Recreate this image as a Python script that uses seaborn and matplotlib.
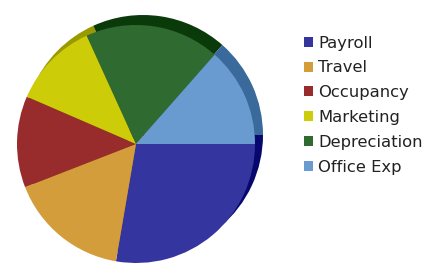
import matplotlib
matplotlib.use('Agg')
import matplotlib.pyplot as plt
import seaborn as sns

sns.set_theme(style="white")
plt.rcParams['font.family'] = ['DejaVu Sans']

# data (share of total, %)
categories = ['Payroll', 'Travel', 'Occupancy', 'Marketing', 'Depreciation', 'Office Exp']
values = [27.7, 16.4, 12.4, 11.7, 18.3, 13.5]

face_colors = ['#35359f', '#d49d3c', '#982c2c', '#cccc08', '#2f6b30', '#6a9bd0']
rim_colors = ['#07076e', '#a07020', '#6a1818', '#9a9a00', '#0a3a0a', '#3a6a9c']

fig = plt.figure(figsize=(4.33, 2.68), dpi=100)
ax = fig.add_axes([0, 0, 1, 1])

# darker pie behind, shifted up-right to mimic the 3D rim
ax.pie(values, colors=rim_colors, startangle=0, counterclock=False,
       center=(143, 133), radius=120, frame=True,
       wedgeprops=dict(linewidth=0))
wedges, _ = ax.pie(values, colors=face_colors, startangle=0, counterclock=False,
                   center=(136, 124), radius=119, frame=True,
                   wedgeprops=dict(linewidth=0))
ax.set_xlim(0, 433)
ax.set_ylim(0, 268)
ax.axis('off')

leg = ax.legend(wedges, categories, loc='upper left',
                bbox_to_anchor=(297 / 433, 1 - 29 / 268),
                frameon=False, fontsize=11.8, handlelength=0.55, handleheight=0.55,
                handletextpad=0.35, labelspacing=0.6, borderaxespad=0)
for t in leg.get_texts():
    t.set_color('#222222')

plt.savefig('out.png', dpi=100)
